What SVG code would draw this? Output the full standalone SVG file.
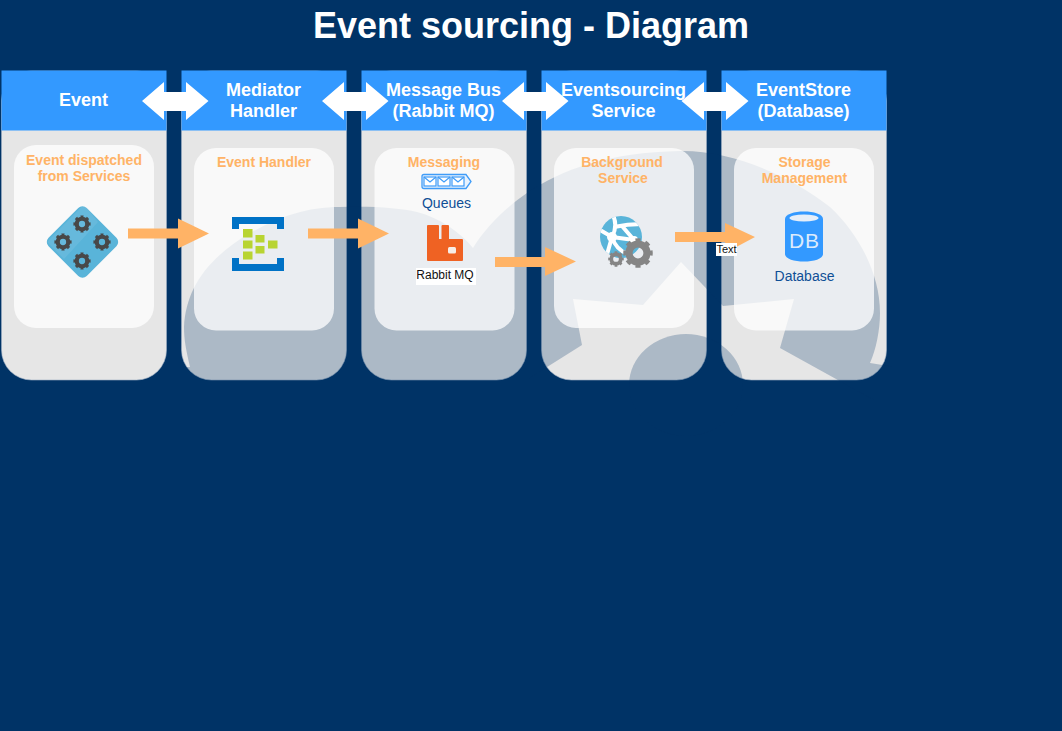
<svg xmlns="http://www.w3.org/2000/svg" width="1062" height="731" viewBox="0 0 1062 731">
<style>
text{font-family:"Liberation Sans",Arial,sans-serif;text-anchor:middle}
.lane{fill:#e6e6e6;stroke:#9fb0c4;stroke-width:.6}
.head{fill:#3399ff}
.headline{stroke:#cfe0f2;stroke-width:1}
.card{fill:#fff;fill-opacity:.75}
.title{font-size:18px;font-weight:bold;fill:#fff}
.sub{font-size:14px;font-weight:bold;fill:#ffb366}
.cap{font-size:14px;fill:#0f4f96}
.blk{fill:#111}
.dbl{fill:#fff}
.flow{fill:#ffb366}
.backdrop{fill:#003366;fill-opacity:.25}
.bg{fill:#003366}
.tag{fill:#fff}
</style>
<defs>
<g id="gear">
<circle r="5" fill="none" stroke="currentColor" stroke-width="4"/>
<circle r="7" fill="none" stroke="currentColor" stroke-width="2.400" pathLength="16" stroke-dasharray="1 1" stroke-dashoffset=".5"/>
</g>
<clipPath id="globe"><circle cx="621" cy="237" r="21"/></clipPath>
</defs>
<rect class="bg" width="1062" height="731"/>
<text x="531" y="38" font-size="36" font-weight="bold" fill="#fff">Event sourcing - Diagram</text>
<g id="lane-backgrounds">
<rect class="lane" x="1.500" y="71" width="165" height="309" rx="30"/>
<rect class="lane" x="181.500" y="71" width="165" height="309" rx="30"/>
<rect class="lane" x="361.500" y="71" width="165" height="309" rx="30"/>
<rect class="lane" x="541.500" y="71" width="165" height="309" rx="30"/>
<rect class="lane" x="721.500" y="71" width="165" height="309" rx="30"/>
</g>
<g id="backdrop">
<path class="backdrop" d="M170 367L190 367C186 350 184 340 184 327C186 290 205 260 250 233C280 217 305 207 340 207C375 206 400 208 417 212C440 218 460 232 473 248C485 228 505 208 527 193C560 170 610 152 680 151C730 150 790 175 830 207C860 235 880 275 880 313C880 330 876 350 870 363L895 367L895 400L874 400L780 348L794 299L723 306L681 262L643 305L573 299L582 345L528 379L528 400L170 400Z"/>
<ellipse class="backdrop" cx="686" cy="385" rx="57" ry="51"/>
</g>
<g id="node-event">
<rect class="head" x="1.500" y="70.500" width="165" height="60"/>
<text class="title" x="83.500" y="106">Event</text>
<rect class="card" x="14" y="145" width="140" height="183" rx="22"/>
<text class="sub" x="84" y="165">Event dispatched</text>
<text class="sub" x="84" y="181">from Services</text>
<g id="icon-event">
<rect x="55.500" y="215" width="54" height="54" rx="6" transform="rotate(45 82.500 242)" fill="#59b4d9"/>
<path d="M82.500 206L47 242L64 259L98 222L86 207Z" fill="#fff" fill-opacity=".08"/>
<g color="#484848">
<use href="#gear" transform="translate(82 224) scale(1.050)"/>
<use href="#gear" transform="translate(63 242) scale(1.050)"/>
<use href="#gear" transform="translate(102 242) scale(1.050)"/>
<use href="#gear" transform="translate(82 261) scale(1.050)"/>
</g>
</g>
</g>
<g id="node-mediator">
<rect class="head" x="181.500" y="70.500" width="165" height="60"/>
<text class="title" x="263.500" y="96">Mediator</text>
<text class="title" x="263.500" y="117">Handler</text>
<rect class="card" x="194" y="148" width="140" height="182.500" rx="22"/>
<text class="sub" x="264" y="167">Event Handler</text>
<g id="icon-handler">
<path fill="#0072c6" d="M232 217H284V229H277V224H239V229H232ZM232 258H239V264H277V258H284V271H232Z"/>
<g fill="#b8d432">
<rect x="243" y="229" width="9.500" height="8.500"/>
<rect x="243" y="240.500" width="9.500" height="8"/>
<rect x="243" y="251.500" width="9.500" height="8"/>
<rect x="255.500" y="235" width="9" height="7.500"/>
<rect x="255.500" y="246" width="9" height="7.500"/>
<rect x="268" y="240.500" width="9.500" height="8"/>
</g>
</g>
</g>
<g id="node-bus">
<rect class="head" x="361.500" y="70.500" width="165" height="60"/>
<text class="title" x="443.500" y="96">Message Bus</text>
<text class="title" x="443.500" y="117">(Rabbit MQ)</text>
<rect class="card" x="374.500" y="148" width="140" height="182.500" rx="22"/>
<text class="sub" x="444" y="167">Messaging</text>
<g id="icon-queue">
<path d="M424 174.500H466L471 181.500L466 188.500H424Q422 188.500 422 186.500V176.500Q422 174.500 424 174.500Z" fill="#e8f2fd" stroke="#3f9cf8" stroke-width="1.300"/>
<g fill="#fff" stroke="#3f9cf8" stroke-width="1.200">
<rect x="424" y="177" width="12" height="9"/>
<rect x="438" y="177" width="12" height="9"/>
<rect x="452" y="177" width="12" height="9"/>
</g>
<path d="M424 177L430 182L436 177M438 177L444 182L450 177M452 177L458 182L464 177" fill="none" stroke="#3f9cf8" stroke-width="1.200"/>
</g>
<text class="cap" x="446.500" y="208">Queues</text>
<g id="icon-rabbit">
<path fill="#ef6223" d="M428 225H438Q439 225 439 226V239H441.500V226Q441.500 225 442.500 225H448Q449 225 449 226V239H462Q463 239 463 240V260Q463 261 462 261H428Q427 261 427 260V226Q427 225 428 225Z"/>
<rect x="448" y="247" width="8" height="6.500" rx="1.500" fill="#f7ede8"/>
</g>
<rect class="tag" x="416" y="268" width="60" height="17"/>
<text class="blk" x="445" y="279" font-size="12">Rabbit MQ</text>
</g>
<g id="node-service">
<rect class="head" x="541.500" y="70.500" width="165" height="60"/>
<text class="title" x="623.500" y="96">Eventsourcing</text>
<text class="title" x="623.500" y="117">Service</text>
<rect class="card" x="554" y="148" width="140" height="180" rx="22"/>
<text class="sub" x="622" y="167">Background</text>
<text class="sub" x="623" y="183">Service</text>
<g id="icon-service">
<circle cx="621" cy="237" r="21" fill="#59b4d9"/>
<g clip-path="url(#globe)" fill="none" stroke="#fff" stroke-width="4">
<path d="M613 215Q618 226 612 237L600 230"/>
<path d="M614 227Q628 224 644 224"/>
<path d="M612 237L634 240M622 226L634 240M612 237L606 258M612 237Q616 250 628 254"/>
</g>
<circle cx="612" cy="237" r="5" fill="#fff"/>
<circle cx="634" cy="240" r="4" fill="#fff"/>
<g color="#858585">
<use href="#gear" transform="translate(638 253) scale(1.800)"/>
<use href="#gear" transform="translate(616 259) scale(.95)"/>
</g>
</g>
</g>
<g id="node-store">
<rect class="head" x="721.500" y="70.500" width="165" height="60"/>
<text class="title" x="803.500" y="96">EventStore</text>
<text class="title" x="803.500" y="117">(Database)</text>
<rect class="card" x="734" y="148" width="140" height="182.500" rx="22"/>
<text class="sub" x="804.500" y="167">Storage</text>
<text class="sub" x="804.500" y="183">Management</text>
<g id="icon-db">
<path fill="#3399ff" d="M785 219C785 209 823 209 823 219V254C823 264 785 264 785 254Z"/>
<ellipse cx="804" cy="218" rx="14.500" ry="3.500" fill="#e6eef8"/>
<text x="804.500" y="248" font-size="21" fill="#dcebfc" letter-spacing="1">DB</text>
</g>
<text class="cap" x="804.500" y="281">Database</text>
</g>
<g id="connectors">
<g id="bidirectional">
<path class="dbl" d="M142 101L164 82V92H186V82L208.500 101L186 120V111H164V120Z"/>
<path class="dbl" d="M322 101L344 82V92H366V82L388.500 101L366 120V111H344V120Z"/>
<path class="dbl" d="M502 101L524 82V92H546V82L568.500 101L546 120V111H524V120Z"/>
<path class="dbl" d="M681.500 101L704 82V92H726V82L748.500 101L726 120V111H704V120Z"/>
</g>
<g id="flows">
<path class="flow" d="M128 228.500H178V218.500L209 233.500L178 248.500V238.500H128Z"/>
<path class="flow" d="M308 228.500H358V218.500L389 233.500L358 248.500V238.500H308Z"/>
<path class="flow" d="M495 257H545V247L576 261.500L545 276V267H495Z"/>
<path class="flow" d="M675 232H725V223L755 237L725 253V242H675Z"/>
</g>
<rect class="tag" x="716" y="243" width="21" height="13"/>
<text class="blk" x="726.500" y="253" font-size="11">Text</text>
</g>
</svg>
